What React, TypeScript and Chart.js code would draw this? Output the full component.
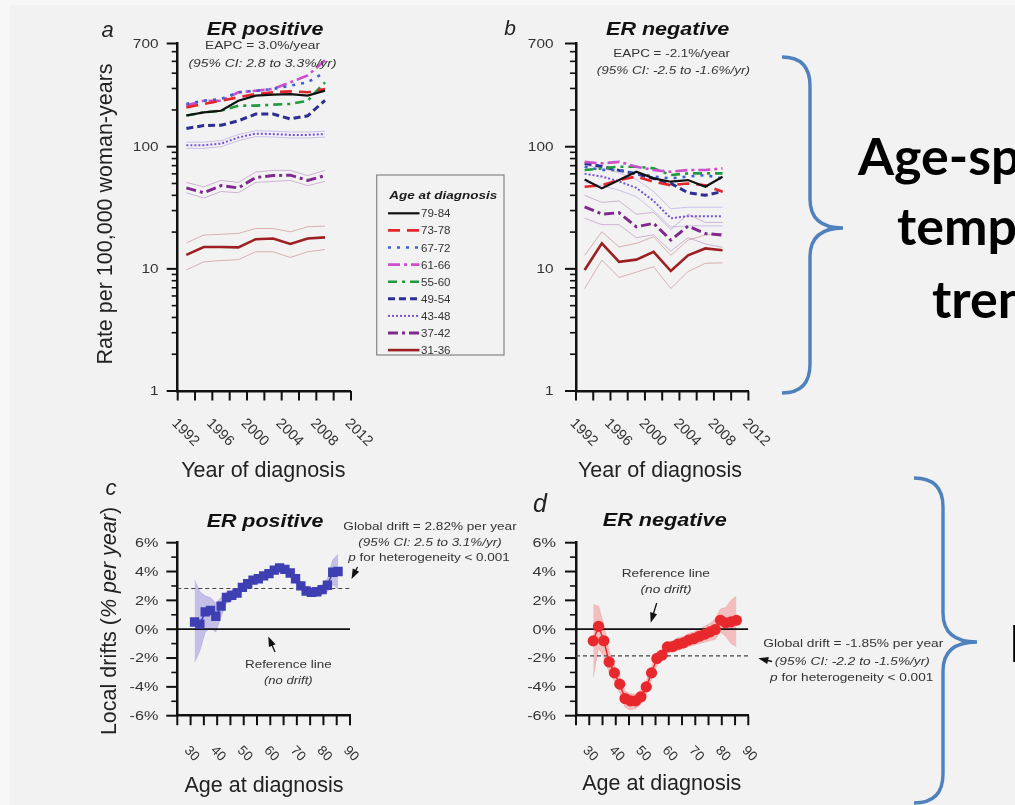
import React, { useEffect, useRef } from 'react';
import { Chart, registerables } from 'chart.js';

Chart.register(...registerables);

const W = 1015;
const H = 805;

// ---------------- data ----------------
const YEARS = [1993, 1995, 1997, 1999, 2001, 2003, 2005, 2007, 2009];
const AGE_GROUPS = ['79-84', '73-78', '67-72', '61-66', '55-60', '49-54', '43-48', '37-42', '31-36'];

// Panel a: ER positive, rate per 100,000 woman-years
const POS_79_84 = [180, 191, 197, 238, 262, 267, 270, 262, 288];
const POS_73_78 = [210, 224, 238, 254, 270, 279, 284, 279, 297];
const POS_67_72 = [224, 238, 246, 279, 287, 297, 316, 337, 407];
const POS_61_66 = [217, 238, 238, 279, 287, 297, 337, 383, 510];
const POS_55_60 = [180, 191, 197, 217, 217, 221, 224, 238, 337];
const POS_49_54 = [141, 149, 150, 163, 185, 185, 169, 179, 240];
const POS_43_48 = [103, 103, 106, 119, 128, 127, 125, 125, 127];
const POS_37_42 = [46, 42, 48, 46, 56, 58, 58.5, 53, 58];
const POS_31_36 = [13, 15.1, 15.1, 15, 17.5, 17.7, 16, 17.7, 18.1];

const POS_CI_LO_43_48 = [97, 97, 100, 112, 121, 120, 118, 118, 120];
const POS_CI_HI_43_48 = [109, 109, 112, 126, 135, 134, 132, 132, 134];
const POS_CI_LO_37_42 = [42, 38, 43, 42, 51, 52, 53, 48, 52];
const POS_CI_HI_37_42 = [51, 47, 53, 51, 62, 64, 64, 58, 64];
const POS_CI_LO_31_36 = [9.8, 11.4, 11.7, 11.9, 13.8, 13.8, 12.4, 13.8, 14.4];
const POS_CI_HI_31_36 = [16.3, 18.9, 19.2, 19.5, 21.4, 21.4, 20.1, 22.1, 22.4];

// Panel b: ER negative
const NEG_79_84 = [54, 45.6, 53.3, 62.4, 55.1, 51.7, 53.3, 47, 56.8];
const NEG_73_78 = [47, 48.4, 53.3, 57, 51.7, 48.4, 50, 48.4, 42.8];
const NEG_67_72 = [68.6, 64.4, 64.4, 60.5, 57, 55, 57, 58.6, 55];
const NEG_61_66 = [75.2, 73, 75.2, 68.6, 64.4, 62.4, 64.4, 64.4, 66.5];
const NEG_55_60 = [64.4, 66.5, 68.6, 68.6, 66.5, 58.6, 60.5, 60.5, 60.5];
const NEG_49_54 = [73, 69, 64, 60, 55, 50, 42, 40, 43];
const NEG_43_48 = [60, 57, 52, 46, 36, 26, 27, 27, 27];
const NEG_37_42 = [32.2, 28.1, 28.8, 22.1, 23.6, 17.2, 22.4, 19.5, 18.9];
const NEG_31_36 = [9.8, 16.2, 11.4, 11.9, 13.8, 9.6, 12.9, 14.7, 14.2];

const NEG_CI_LO_43_48 = [51, 48, 44, 39, 30, 22, 22.5, 22.5, 22.5];
const NEG_CI_HI_43_48 = [70, 67, 61, 54, 43, 31, 32, 32, 32];
const NEG_CI_LO_37_42 = [26, 23, 23, 18, 19, 14, 18, 16, 15];
const NEG_CI_HI_37_42 = [40, 35, 36, 28, 29, 21, 28, 24, 24];
const NEG_CI_LO_31_36 = [6.9, 11.8, 8.5, 9.4, 10.4, 6.9, 9.5, 11.1, 11.2];
const NEG_CI_HI_31_36 = [12.9, 20.1, 15.1, 16.2, 18.3, 12.9, 17.2, 18.9, 19.5];

// Panels c / d: local drifts (% per year) by age
const DRIFT_AGES = [31.5, 33.5, 35.5, 37.5, 39.5, 41.5, 43.5, 45.5, 47.5, 49.5, 51.5, 53.5, 55.5, 57.5,
  59.5, 61.5, 63.5, 65.5, 67.5, 69.5, 71.5, 73.5, 75.5, 77.5, 79.5, 81.5, 83.5, 85.5];
const POS_DRIFT = [0.5, 0.35, 1.2, 1.3, 0.9, 1.6, 2.2, 2.35, 2.5, 2.9, 3.15, 3.4, 3.5, 3.7,
  3.85, 4.1, 4.25, 4.15, 3.9, 3.5, 3.0, 2.65, 2.55, 2.6, 2.75, 3.05, 3.95, 4.0];
const POS_DRIFT_HI = [3.4, 2.6, 2.3, 2.2, 1.8, 2.2, 2.6, 2.7, 2.8, 3.2, 3.4, 3.65, 3.75, 3.95,
  4.1, 4.35, 4.5, 4.4, 4.15, 3.8, 3.3, 2.95, 2.85, 2.9, 3.1, 3.5, 4.8, 5.2];
const POS_DRIFT_LO = [-2.3, -1.5, -0.2, 0.1, -0.2, 0.9, 1.8, 2.0, 2.2, 2.6, 2.9, 3.15, 3.25, 3.45,
  3.6, 3.85, 4.0, 3.9, 3.65, 3.2, 2.7, 2.35, 2.25, 2.3, 2.4, 2.6, 3.1, 2.8];
const NEG_DRIFT = [-0.81, 0.2, -0.8, -2.27, -3.03, -3.81, -4.81, -4.97, -4.97, -4.69, -4.0, -3.03, -2.03, -1.8,
  -1.23, -1.2, -1.04, -0.95, -0.76, -0.65, -0.49, -0.35, -0.19, -0.02, 0.62, 0.44, 0.51, 0.62];
const NEG_DRIFT_HI = [1.7, 1.6, 0.3, -1.5, -2.5, -3.3, -4.3, -4.5, -4.5, -4.2, -3.6, -2.6, -1.6, -1.4,
  -0.9, -0.8, -0.6, -0.5, -0.3, -0.2, 0.0, 0.2, 0.4, 0.7, 1.4, 1.5, 2.0, 2.3];
const NEG_DRIFT_LO = [-3.3, -1.3, -1.9, -3.0, -3.6, -4.4, -5.4, -5.6, -5.5, -5.2, -4.5, -3.5, -2.5, -2.2,
  -1.6, -1.6, -1.45, -1.35, -1.2, -1.1, -1.0, -0.9, -0.8, -0.7, -0.2, -0.5, -1.0, -1.2];
const POS_GLOBAL_DRIFT = 2.82;
const NEG_GLOBAL_DRIFT = -1.85;
const NO_DRIFT = 0;

// ticks
const YEAR_TICKS = [1992, 1994, 1996, 1998, 2000, 2002, 2004, 2006, 2008, 2010, 2012];
const YEAR_LABELS = [1992, 1996, 2000, 2004, 2008, 2012];
const RATE_TICKS = [1, 2, 3, 4, 5, 6, 7, 8, 9, 10, 20, 30, 40, 50, 60, 70, 80, 90, 100, 200, 300, 400, 500, 600, 700];
const RATE_LABELS = [1, 10, 100, 700];
const AGE_TICKS = [25, 30, 35, 40, 45, 50, 55, 60, 65, 70, 75, 80, 85, 90];
const AGE_LABELS = [30, 40, 50, 60, 70, 80, 90];
const DRIFT_TICKS = [-6, -5, -4, -3, -2, -1, 0, 1, 2, 3, 4, 5, 6];
const DRIFT_LABELS = [-6, -4, -2, 0, 2, 4, 6];

const POS_SERIES = [POS_79_84, POS_73_78, POS_67_72, POS_61_66, POS_55_60, POS_49_54, POS_43_48, POS_37_42, POS_31_36];
const NEG_SERIES = [NEG_79_84, NEG_73_78, NEG_67_72, NEG_61_66, NEG_55_60, NEG_49_54, NEG_43_48, NEG_37_42, NEG_31_36];
const POS_CI = [
  { g: 6, lo: POS_CI_LO_43_48, hi: POS_CI_HI_43_48 },
  { g: 7, lo: POS_CI_LO_37_42, hi: POS_CI_HI_37_42 },
  { g: 8, lo: POS_CI_LO_31_36, hi: POS_CI_HI_31_36 },
];
const NEG_CI = [
  { g: 6, lo: NEG_CI_LO_43_48, hi: NEG_CI_HI_43_48 },
  { g: 7, lo: NEG_CI_LO_37_42, hi: NEG_CI_HI_37_42 },
  { g: 8, lo: NEG_CI_LO_31_36, hi: NEG_CI_HI_31_36 },
];

// ---------------- styles ----------------
const GROUP_STYLE = [
  { color: '#111111', dash: [], width: 2.2 },
  { color: '#e4262b', dash: [12, 7], width: 2.6 },
  { color: '#3f5fd4', dash: [3, 6], width: 2.6 },
  { color: '#cc4fcc', dash: [12, 4, 3, 4], width: 2.6 },
  { color: '#1f9a3e', dash: [9, 5, 3, 5], width: 2.6 },
  { color: '#2c2f91', dash: [7, 4], width: 3 },
  { color: '#7653d6', dash: [2, 2], width: 2 },
  { color: '#7d2a8c', dash: [10, 4, 3, 4], width: 3 },
  { color: '#9e1f22', dash: [], width: 2.6 },
];

const SANS = '"Liberation Sans", Arial, Helvetica, sans-serif';
const fnt = (px: number, style = '') => `${style} ${px}px ${SANS}`.trim();

function hexA(hex: string, a: number) {
  const n = parseInt(hex.slice(1), 16);
  return `rgba(${(n >> 16) & 255},${(n >> 8) & 255},${n & 255},${a})`;
}

const pts = (xs: number[], ys: number[]) => xs.map((x, i) => ({ x, y: ys[i] }));

// ---------------- text helpers ----------------
type Run = { t: string; f: string };

function drawRuns(ctx: any, runs: Run[], x: number, y: number, o: any = {}) {
  const align = o.align || 'center';
  ctx.save();
  ctx.translate(x, y);
  if (o.rot) ctx.rotate(o.rot);
  ctx.textBaseline = o.baseline || 'alphabetic';
  ctx.textAlign = 'left';
  let total = 0;
  for (const r of runs) { ctx.font = r.f; total += ctx.measureText(r.t).width; }
  let sx = o.sx || 1;
  if (o.w) sx = o.w / total;
  ctx.scale(sx, 1);
  ctx.fillStyle = o.color || '#1a1a1a';
  let cx = align === 'left' ? 0 : align === 'center' ? -total / 2 : -total;
  for (const r of runs) { ctx.font = r.f; ctx.fillText(r.t, cx, 0); cx += ctx.measureText(r.t).width; }
  ctx.restore();
}
const txt = (ctx: any, s: string, x: number, y: number, f: string, o: any = {}) => drawRuns(ctx, [{ t: s, f }], x, y, o);

function arrow(ctx: any, x1: number, y1: number, x2: number, y2: number) {
  const a = Math.atan2(y2 - y1, x2 - x1);
  const c = Math.cos(a), s = Math.sin(a);
  ctx.save();
  ctx.strokeStyle = '#111';
  ctx.fillStyle = '#111';
  ctx.lineWidth = 1.3;
  ctx.beginPath();
  ctx.moveTo(x1, y1);
  ctx.lineTo(x2 - 6 * c, y2 - 6 * s);
  ctx.stroke();
  ctx.beginPath();
  ctx.moveTo(x2, y2);
  ctx.lineTo(x2 - 10 * c + 3.6 * s, y2 - 10 * s - 3.6 * c);
  ctx.lineTo(x2 - 10 * c - 3.6 * s, y2 - 10 * s + 3.6 * c);
  ctx.closePath();
  ctx.fill();
  ctx.restore();
}

function drawYAxis(ctx: any, scale: any, left: number, ticks: number[], labels: number[], fmt: (v: number) => string,
  labelRight: number, px: number, sx: number) {
  ctx.save();
  ctx.strokeStyle = '#111';
  for (const v of ticks) {
    const y = scale.getPixelForValue(v);
    const major = labels.includes(v);
    ctx.lineWidth = major ? 2 : 1.6;
    ctx.beginPath();
    ctx.moveTo(left - (major ? 11 : 6), y);
    ctx.lineTo(left, y);
    ctx.stroke();
    if (major) txt(ctx, fmt(v), labelRight, y + px * 0.36, fnt(px), { align: 'right', sx, color: '#333' });
  }
  ctx.restore();
}

function drawXAxis(ctx: any, scale: any, bottom: number, ticks: number[], labels: number[], px: number,
  dx: number, dy: number) {
  ctx.save();
  ctx.strokeStyle = '#111';
  ctx.lineWidth = 2;
  for (const v of ticks) {
    const x = scale.getPixelForValue(v);
    ctx.beginPath();
    ctx.moveTo(x, bottom);
    ctx.lineTo(x, bottom + 9.5);
    ctx.stroke();
  }
  for (const v of labels) {
    const x = scale.getPixelForValue(v);
    txt(ctx, String(v), x + dx, bottom + dy, fnt(px), { align: 'left', baseline: 'top', rot: Math.PI / 4, color: '#333' });
  }
  ctx.restore();
}

function drawLegend(ctx: any) {
  ctx.save();
  ctx.strokeStyle = '#858585';
  ctx.lineWidth = 1.2;
  ctx.strokeRect(376.7, 175, 127.3, 180);
  txt(ctx, 'Age at diagnosis', 443.3, 199.3, fnt(11, 'italic bold'), { w: 108 });
  AGE_GROUPS.forEach((g, i) => {
    const st = GROUP_STYLE[i];
    const y = 213.3 + i * 17.1;
    ctx.save();
    ctx.strokeStyle = st.color;
    ctx.lineWidth = st.width;
    ctx.setLineDash(st.dash);
    ctx.beginPath();
    ctx.moveTo(388, y);
    ctx.lineTo(419.5, y);
    ctx.stroke();
    ctx.restore();
    txt(ctx, g, 421, y + 4, fnt(11), { align: 'left', sx: 1.05, color: '#333' });
  });
  ctx.restore();
}

// ---------------- chart configs ----------------
function axisOpts(extra: any, horizontal: boolean) {
  return {
    ...extra,
    display: true,
    grid: { display: true, drawOnChartArea: false, drawTicks: false },
    border: { display: true, color: '#111', width: 2.5 },
    ticks: { display: false },
    afterFit: (s: any) => { if (horizontal) s.height = 0; else s.width = 0; },
  };
}

function baseOptions(pad: any, xs: any, ys: any) {
  return {
    responsive: false,
    animation: false,
    devicePixelRatio: 1,
    events: [],
    layout: { padding: pad },
    plugins: { legend: { display: false }, tooltip: { enabled: false } },
    elements: { point: { radius: 0 }, line: { tension: 0 } },
    scales: { x: axisOpts(xs, true), y: axisOpts(ys, false) },
  };
}

function rateConfig(series: number[][], ci: any[], left: number, right: number, decorate: (c: any) => void) {
  const datasets: any[] = [];
  series.forEach((vals, i) => {
    const st = GROUP_STYLE[i];
    datasets.push({
      data: pts(YEARS, vals), borderColor: st.color, borderWidth: st.width, borderDash: st.dash,
      pointRadius: 0, fill: false, order: 1,
    });
  });
  ci.forEach((c) => {
    const col = hexA(GROUP_STYLE[c.g].color, 0.35);
    for (const arr of [c.lo, c.hi]) {
      datasets.push({ data: pts(YEARS, arr), borderColor: col, borderWidth: 0.9, pointRadius: 0, fill: false, order: 2 });
    }
  });
  return {
    type: 'line',
    data: { datasets },
    options: baseOptions(
      { left, right: W - right, top: 43.5, bottom: H - 391 },
      { type: 'linear', min: 1992, max: 2012 },
      { type: 'logarithmic', min: 1, max: 700 },
    ),
    plugins: [{ id: 'decor', afterDraw: decorate }],
  };
}

function driftConfig(vals: number[], lo: number[], hi: number[], glob: number, color: string, band: string,
  style: string, radius: number, left: number, right: number, decorate: (c: any) => void) {
  const datasets: any[] = [
    {
      data: pts(DRIFT_AGES, vals), borderColor: color, backgroundColor: color, borderWidth: 1.5,
      pointStyle: style, pointRadius: radius, pointBorderWidth: 0, fill: false, order: 0,
    },
    { data: [{ x: 25, y: NO_DRIFT }, { x: 90, y: NO_DRIFT }], borderColor: '#111', borderWidth: 1.7, pointRadius: 0, fill: false, order: 1 },
    { data: [{ x: 25, y: glob }, { x: 90, y: glob }], borderColor: '#444', borderWidth: 1.1, borderDash: [4, 3], pointRadius: 0, fill: false, order: 1 },
    { data: pts(DRIFT_AGES, lo), borderColor: band, borderWidth: 0.8, pointRadius: 0, fill: false, order: 3 },
    { data: pts(DRIFT_AGES, hi), borderColor: band, borderWidth: 0.8, pointRadius: 0, fill: '-1', backgroundColor: band, order: 3 },
  ];
  return {
    type: 'line',
    data: { datasets },
    options: baseOptions(
      { left, right: W - right, top: 542.7, bottom: H - 715.7 },
      { type: 'linear', min: 25, max: 90 },
      { type: 'linear', min: -6, max: 6 },
    ),
    plugins: [{ id: 'decor', afterDraw: decorate }],
  };
}

const pct = (v: number) => `${v}%`;

function decorA(chart: any) {
  const { ctx, chartArea: ca, scales } = chart;
  drawYAxis(ctx, scales.y, ca.left, RATE_TICKS, RATE_LABELS, String, 158.5, 12, 1.28);
  drawXAxis(ctx, scales.x, ca.bottom, YEAR_TICKS, YEAR_LABELS, 14.5, 1.5, 25);
  txt(ctx, 'a', 107.5, 36.7, fnt(22, 'italic'), { color: '#222' });
  txt(ctx, 'ER positive', 265, 35, fnt(18.5, 'italic bold'), { w: 116.7, color: '#111' });
  txt(ctx, 'EAPC = 3.0%/year', 262.5, 49.3, fnt(11), { w: 115, color: '#333' });
  txt(ctx, '(95% CI: 2.8 to 3.3%/yr)', 262.5, 66.7, fnt(11, 'italic'), { w: 148, color: '#333' });
  txt(ctx, 'Rate per 100,000 woman-years', 112, 214, fnt(21.5), { rot: -Math.PI / 2, color: '#222' });
  txt(ctx, 'Year of diagnosis', 263.3, 477, fnt(21.5), { color: '#222' });
  drawLegend(ctx);
}

function decorB(chart: any) {
  const { ctx, chartArea: ca, scales } = chart;
  drawYAxis(ctx, scales.y, ca.left, RATE_TICKS, RATE_LABELS, String, 553.5, 12, 1.28);
  drawXAxis(ctx, scales.x, ca.bottom, YEAR_TICKS, YEAR_LABELS, 14.5, 1.5, 25);
  txt(ctx, 'b', 510, 35, fnt(21, 'italic'), { color: '#222' });
  txt(ctx, 'ER negative', 667.7, 35, fnt(18.5, 'italic bold'), { w: 123.3, color: '#111' });
  txt(ctx, 'EAPC = -2.1%/year', 671.7, 56.7, fnt(11), { w: 116.7, color: '#333' });
  txt(ctx, '(95% CI: -2.5 to -1.6%/yr)', 673.3, 74.3, fnt(11, 'italic'), { w: 153.3, color: '#333' });
  txt(ctx, 'Year of diagnosis', 660, 477, fnt(21.5), { color: '#222' });
}

function decorC(chart: any) {
  const { ctx, chartArea: ca, scales } = chart;
  drawYAxis(ctx, scales.y, ca.left, DRIFT_TICKS, DRIFT_LABELS, pct, 158.3, 12, 1.35);
  drawXAxis(ctx, scales.x, ca.bottom, AGE_TICKS, AGE_LABELS, 13.5, 0.5, 28);
  txt(ctx, 'c', 111, 495, fnt(22, 'italic'), { color: '#222' });
  txt(ctx, 'ER positive', 265, 526.7, fnt(18.5, 'italic bold'), { w: 116.7, color: '#111' });
  txt(ctx, 'Global drift = 2.82% per year', 430, 530, fnt(11), { w: 173.3, color: '#333' });
  txt(ctx, '(95% CI: 2.5 to 3.1%/yr)', 430, 546, fnt(11, 'italic'), { w: 143.3, color: '#333' });
  drawRuns(ctx, [{ t: 'p', f: fnt(11, 'italic') }, { t: ' for heterogeneity < 0.001', f: fnt(11) }], 429, 561, { w: 161.7, color: '#333' });
  arrow(ctx, 357.5, 567, 351.5, 579);
  txt(ctx, 'Reference line', 288.3, 668.3, fnt(11), { w: 86.7, color: '#333' });
  txt(ctx, '(no drift)', 288.3, 684, fnt(11, 'italic'), { w: 48.7, color: '#333' });
  arrow(ctx, 275, 652, 268.3, 636.5);
  drawRuns(ctx, [{ t: 'Local drifts (', f: fnt(21.5) }, { t: '% per year', f: fnt(21.5, 'italic') }, { t: ')', f: fnt(21.5) }],
    116, 621, { rot: -Math.PI / 2, color: '#222' });
  txt(ctx, 'Age at diagnosis', 264, 791.5, fnt(21.5), { color: '#222' });
}

function decorD(chart: any) {
  const { ctx, chartArea: ca, scales } = chart;
  drawYAxis(ctx, scales.y, ca.left, DRIFT_TICKS, DRIFT_LABELS, pct, 556, 12, 1.35);
  drawXAxis(ctx, scales.x, ca.bottom, AGE_TICKS, AGE_LABELS, 13.5, 0.5, 28);
  txt(ctx, 'd', 540, 511.7, fnt(25, 'italic'), { color: '#222' });
  txt(ctx, 'ER negative', 664.7, 526, fnt(18.5, 'italic bold'), { w: 124, color: '#111' });
  txt(ctx, 'Reference line', 665.8, 576.7, fnt(11), { w: 88.3, color: '#333' });
  txt(ctx, '(no drift)', 666, 593.3, fnt(11, 'italic'), { w: 51, color: '#333' });
  arrow(ctx, 656.7, 603, 650.7, 622.7);
  txt(ctx, 'Global drift = -1.85% per year', 853.3, 647.3, fnt(11), { w: 180, color: '#333' });
  txt(ctx, '(95% CI: -2.2 to -1.5%/yr)', 852.3, 665, fnt(11, 'italic'), { w: 155, color: '#333' });
  drawRuns(ctx, [{ t: 'p', f: fnt(11, 'italic') }, { t: ' for heterogeneity < 0.001', f: fnt(11) }], 851.7, 681, { w: 163.3, color: '#333' });
  arrow(ctx, 772, 661.5, 758.3, 658.3);
  txt(ctx, 'Age at diagnosis', 661.7, 790, fnt(21.5), { color: '#222' });
}

export default function App() {
  const refA = useRef<HTMLCanvasElement>(null);
  const refB = useRef<HTMLCanvasElement>(null);
  const refC = useRef<HTMLCanvasElement>(null);
  const refD = useRef<HTMLCanvasElement>(null);

  useEffect(() => {
    const charts = [
      new Chart(refA.current as any, rateConfig(POS_SERIES, POS_CI, 177.7, 351, decorA) as any),
      new Chart(refB.current as any, rateConfig(NEG_SERIES, NEG_CI, 576, 748.4, decorB) as any),
      new Chart(refC.current as any, driftConfig(POS_DRIFT, POS_DRIFT_LO, POS_DRIFT_HI, POS_GLOBAL_DRIFT,
        '#3d3fb2', 'rgba(140,128,214,0.45)', 'rect', 6.6, 177.3, 350, decorC) as any),
      new Chart(refD.current as any, driftConfig(NEG_DRIFT, NEG_DRIFT_LO, NEG_DRIFT_HI, NEG_GLOBAL_DRIFT,
        '#e8282c', 'rgba(244,120,120,0.42)', 'circle', 5.6, 576, 748.3, decorD) as any),
    ];
    return () => charts.forEach((c) => c.destroy());
  }, []);

  const cv: any = { position: 'absolute', left: 0, top: 0 };
  const brace = '#4f81bd';
  const big = { fontFamily: 'Lato, "Open Sans", sans-serif', fontWeight: 700, fontSize: 52, fill: '#000' };
  return (
    <div style={{ position: 'absolute', left: 0, top: 0, width: W, height: H, overflow: 'hidden', background: '#f7f7f7' }}>
      <div style={{ position: 'absolute', left: 10, top: 5, right: 0, bottom: 0, background: '#f2f2f2' }} />
      <canvas ref={refA} width={W} height={H} style={cv} />
      <canvas ref={refB} width={W} height={H} style={cv} />
      <canvas ref={refC} width={W} height={H} style={cv} />
      <canvas ref={refD} width={W} height={H} style={cv} />
      <svg width={W} height={H} style={{ position: 'absolute', left: 0, top: 0, pointerEvents: 'none' }}>
        <path d="M782,57 Q810,57 810,86 L810,199 Q810,228 843,228 Q810,228 810,257 L810,364 Q810,393 782,393"
          fill="none" stroke={brace} strokeWidth={3.4} />
        <path d="M914,478 Q943,478 943,507 L943,613 Q943,642 977,642 Q943,642 943,671 L943,774 Q943,803 914,803"
          fill="none" stroke={brace} strokeWidth={3.4} />
        <text x={858} y={175} style={big as any}>Age-sp</text>
        <text x={897} y={245} style={big as any}>temp</text>
        <text x={932} y={318} style={big as any}>tren</text>
        <text x={1009} y={661.7} style={big as any}>I</text>
      </svg>
    </div>
  );
}
